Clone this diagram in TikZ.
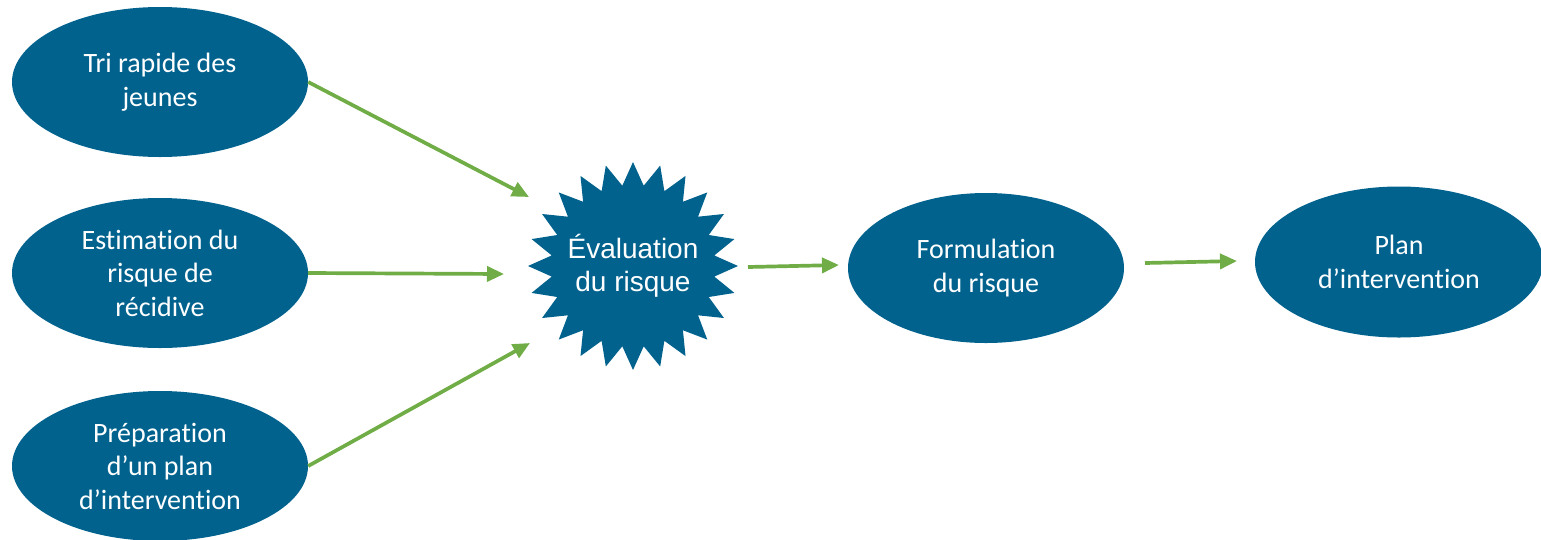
\documentclass[tikz,border=0pt]{standalone}
\usepackage{fontspec}
\setmainfont{Carlito}[Ligatures=NoCommon]
\newfontfamily\arialf{Liberation Sans}
\usetikzlibrary{shapes.geometric,arrows.meta}
\definecolor{nodeblue}{RGB}{1,98,142}
\definecolor{arrgreen}{RGB}{112,173,71}
\tikzset{
  oval/.style={ellipse, fill=nodeblue, text=white, inner sep=0pt, align=center,
    font=\fontsize{28}{33.5}\selectfont},
  leftoval/.style={oval, minimum width=296pt, minimum height=150pt},
  arr/.style={draw=arrgreen, line width=3.7pt, -{Triangle[length=17pt,width=15pt]}},
}
\begin{document}
\begin{tikzpicture}[x=1pt,y=-1pt]
\useasboundingbox (0,0) rectangle (1541,539);
% left ovals
\node[leftoval] (t1) at (160,82) {Tri rapide des\\jeunes};
\node[leftoval] (t2) at (160,273) {Estimation du\\risque de\\récidive};
\node[leftoval] (t3) at (160,466) {Préparation\\d’un plan\\d’intervention};
% starburst
\fill[nodeblue] plot[samples at={0,...,47}, variable=\t]
  ({633+(105-23*mod(\t,2))*sin(7.5*\t)}, {266-(104-23*mod(\t,2))*cos(7.5*\t)}) -- cycle;
\node[text=white, align=center, font=\arialf\fontsize{28}{33.5}\selectfont] (ev) at (633,266) {Évaluation\\du risque};
% right ovals
\node[oval, minimum width=276pt, minimum height=150pt] (f) at (986,268) {Formulation\\du risque};
\node[oval, minimum width=288pt, minimum height=151pt] (p) at (1399,262) {Plan\\d’intervention};
% connector end points
\coordinate (e1) at (529,197);
\coordinate (e2) at (504,274);
\coordinate (e3) at (530,343);
\coordinate (s4) at (748,267);
\coordinate (e4) at (839,265);
\coordinate (s5) at (1145,263);
\coordinate (e5) at (1237,261);
\draw[arr] (t1.east) -- (e1);
\draw[arr] (t2.east) -- (e2);
\draw[arr] (t3.east) -- (e3);
\draw[arr] (s4) -- (e4);
\draw[arr] (s5) -- (e5);
\end{tikzpicture}
\end{document}
